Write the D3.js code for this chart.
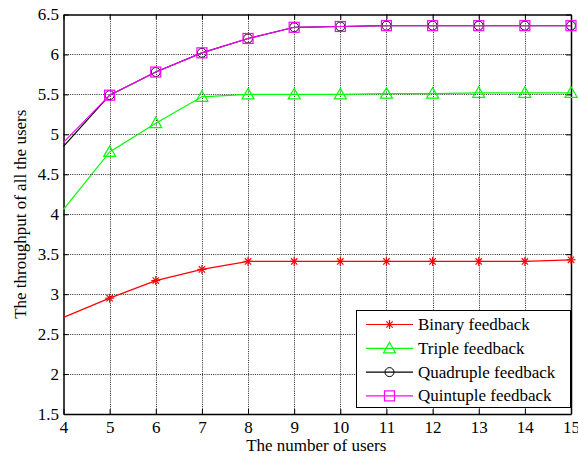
<!DOCTYPE html>
<html>
<head>
<meta charset="utf-8">
<script src="https://cdn.jsdelivr.net/npm/d3@7"></script>
<style>
  html, body { margin: 0; padding: 0; background: #fff; }
  svg { display: block; }
  text { font-family: "Liberation Serif", "Times New Roman", serif; fill: #000; }
</style>
</head>
<body>
<svg id="chart" width="578" height="457"></svg>
<script>
// Number of users on the x axis
const users = [4, 5, 6, 7, 8, 9, 10, 11, 12, 13, 14, 15];

// Throughput of all users for each feedback scheme
const binary     = [2.71, 2.95, 3.17, 3.31, 3.41, 3.41, 3.41, 3.41, 3.41, 3.41, 3.41, 3.43];
const triple     = [4.06, 4.78, 5.14, 5.47, 5.50, 5.50, 5.50, 5.51, 5.51, 5.52, 5.52, 5.52];
const quadruple  = [4.85, 5.49, 5.78, 6.02, 6.20, 6.34, 6.35, 6.36, 6.36, 6.36, 6.36, 6.36];
const quintuple  = [4.90, 5.49, 5.78, 6.02, 6.20, 6.34, 6.35, 6.36, 6.36, 6.36, 6.36, 6.36];

const seriesNames = ["Binary feedback", "Triple feedback", "Quadruple feedback", "Quintuple feedback"];

// Axis ticks
const xTicks = [4, 5, 6, 7, 8, 9, 10, 11, 12, 13, 14, 15];
const yTicks = [1.5, 2, 2.5, 3, 3.5, 4, 4.5, 5, 5.5, 6, 6.5];

const series = [
  { name: seriesNames[0], values: binary,    color: "#ff0000", marker: "star" },
  { name: seriesNames[1], values: triple,    color: "#00ff00", marker: "triangle" },
  { name: seriesNames[2], values: quadruple, color: "#000000", marker: "circle" },
  { name: seriesNames[3], values: quintuple, color: "#ff00ff", marker: "square" }
];

const FS = 17;
const svg = d3.select("#chart");
const plot = { left: 63.5, right: 571, top: 14.5, bottom: 414 };

const x = d3.scaleLinear().domain([4, 15]).range([plot.left, plot.right]);
const y = d3.scaleLinear().domain([1.5, 6.5]).range([plot.bottom, plot.top]);

// Dotted grid
const grid = svg.append("g").attr("class", "grid");
grid.selectAll("line.gx").data(xTicks.slice(1, -1)).join("line")
  .attr("x1", d => Math.round(x(d)) + 0.5).attr("x2", d => Math.round(x(d)) + 0.5)
  .attr("y1", plot.top).attr("y2", plot.bottom)
  .attr("stroke", "#000").attr("stroke-width", 1).attr("stroke-dasharray", "1,1.2")
  .attr("opacity", 0.85);
grid.selectAll("line.gy").data(yTicks.slice(1, -1)).join("line")
  .attr("y1", d => Math.round(y(d)) + 0.5).attr("y2", d => Math.round(y(d)) + 0.5)
  .attr("x1", plot.left).attr("x2", plot.right)
  .attr("stroke", "#000").attr("stroke-width", 1).attr("stroke-dasharray", "1,1.2")
  .attr("opacity", 0.85);

// Axes with inward ticks on all four sides
const fmt = d => d3.format("")(d);
const bottomAxis = svg.append("g").attr("transform", `translate(0,${plot.bottom})`)
  .call(d3.axisBottom(x).tickValues(xTicks).tickSizeInner(-5).tickSizeOuter(0).tickPadding(7).tickFormat(fmt));
const topAxis = svg.append("g").attr("transform", `translate(0,${plot.top})`)
  .call(d3.axisTop(x).tickValues(xTicks).tickSizeInner(-5).tickSizeOuter(0).tickFormat(""));
const leftAxis = svg.append("g").attr("transform", `translate(${plot.left},0)`)
  .call(d3.axisLeft(y).tickValues(yTicks).tickSizeInner(-5).tickSizeOuter(0).tickPadding(4.5).tickFormat(fmt));
const rightAxis = svg.append("g").attr("transform", `translate(${plot.right},0)`)
  .call(d3.axisRight(y).tickValues(yTicks).tickSizeInner(-5).tickSizeOuter(0).tickFormat(""));

[bottomAxis, topAxis, leftAxis, rightAxis].forEach(g => {
  g.select(".domain").attr("stroke", "#000").attr("stroke-width", 1.5);
  g.selectAll(".tick line").attr("stroke", "#000").attr("stroke-width", 1);
  g.selectAll(".tick text").attr("font-size", FS).attr("font-family", "Liberation Serif");
});

// Axis titles
svg.append("text")
  .attr("x", (plot.left + plot.right) / 2 - 1).attr("y", 451)
  .attr("text-anchor", "middle").attr("font-size", FS)
  .text("The number of users");
svg.append("text")
  .attr("transform", `translate(26,${(plot.top + plot.bottom) / 2}) rotate(-90)`)
  .attr("text-anchor", "middle").attr("font-size", FS)
  .text("The throughput of all the users");

// Marker drawing
function drawMarker(g, type, color) {
  if (type === "star") {
    const r = 4.5;
    [0, 45, 90, 135].forEach(a => {
      const rad = a * Math.PI / 180;
      g.append("line")
        .attr("x1", -r * Math.cos(rad)).attr("y1", -r * Math.sin(rad))
        .attr("x2", r * Math.cos(rad)).attr("y2", r * Math.sin(rad))
        .attr("stroke", color).attr("stroke-width", 1.2);
    });
  } else if (type === "triangle") {
    g.append("path").attr("d", "M0,-6L6,4.5L-6,4.5Z")
      .attr("fill", "none").attr("stroke", color).attr("stroke-width", 1.2);
  } else if (type === "circle") {
    g.append("circle").attr("r", 4.5)
      .attr("fill", "none").attr("stroke", color).attr("stroke-width", 1);
  } else if (type === "square") {
    g.append("rect").attr("x", -5).attr("y", -5).attr("width", 10).attr("height", 10)
      .attr("fill", "none").attr("stroke", color).attr("stroke-width", 1.2);
  }
}

// Lines, with markers from the second point onward
const line = d3.line().x((d, i) => x(users[i])).y(d => y(d));
const plotArea = svg.append("g");
series.forEach(s => {
  plotArea.append("path").datum(s.values)
    .attr("d", line).attr("fill", "none")
    .attr("stroke", s.color).attr("stroke-width", 1.2);
  s.values.forEach((v, i) => {
    if (i === 0) return;
    const g = plotArea.append("g").attr("transform", `translate(${x(users[i])},${y(v)})`);
    drawMarker(g, s.marker, s.color);
  });
});

// Legend
const legend = svg.append("g");
legend.append("rect")
  .attr("x", 356.5).attr("y", 310.5).attr("width", 214).attr("height", 97)
  .attr("fill", "#fff").attr("stroke", "#000").attr("stroke-width", 1);
series.forEach((s, i) => {
  const ly = 324.5 + i * 23.8;
  legend.append("line").attr("x1", 366).attr("x2", 413).attr("y1", ly).attr("y2", ly)
    .attr("stroke", s.color).attr("stroke-width", 1.2);
  const g = legend.append("g").attr("transform", `translate(389.5,${ly})`);
  drawMarker(g, s.marker, s.color);
  legend.append("text").attr("x", 418).attr("y", ly + 5.5).attr("font-size", FS).text(s.name);
});
</script>
</body>
</html>
